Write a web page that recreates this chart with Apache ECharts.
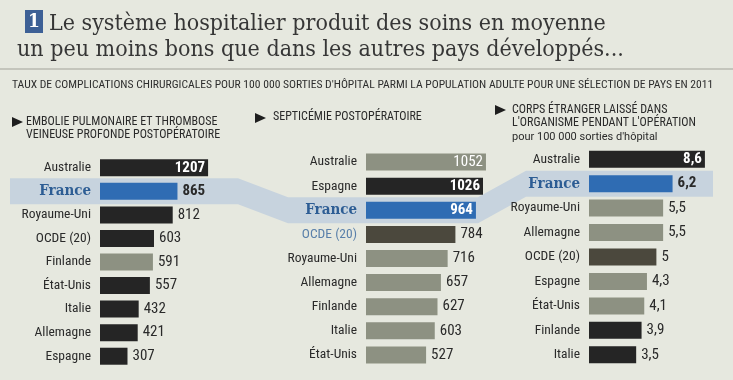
<!DOCTYPE html>
<html><head><meta charset="utf-8">
<script src="https://cdn.jsdelivr.net/npm/echarts@6/dist/echarts.min.js"></script>
<style>html,body{margin:0;padding:0;background:#e6e8df}#c{width:733px;height:380px}</style>
</head><body><div id="c"></div>
<script>
// ---- data ----
const categories1 = ['Australie','France','Royaume-Uni','OCDE (20)','Finlande','État-Unis','Italie','Allemagne','Espagne'];
const values1 = [1207,865,812,603,591,557,432,421,307];
const categories2 = ['Australie','Espagne','France','OCDE (20)','Royaume-Uni','Allemagne','Finlande','Italie','État-Unis'];
const values2 = [1052,1026,964,784,716,657,627,603,527];
const categories3 = ['Australie','France','Royaume-Uni','Allemagne','OCDE (20)','Espagne','État-Unis','Finlande','Italie'];
const values3 = [8.6,6.2,5.5,5.5,5,4.3,4.1,3.9,3.5];

// ---- styles (kept separate from data) ----
const tone1 = ['k','b','k','k','g','k','k','k','k'];
const tone2 = ['g','k','b','o','g','g','g','g','g'];
const tone3 = ['k','b','g','g','o','g','g','k','k'];
const inside1 = [1,0,0,0,0,0,0,0,0];
const inside2 = [1,1,1,0,0,0,0,0,0];
const inside3 = [1,0,0,0,0,0,0,0,0];
const bold1 = [1,1,0,0,0,0,0,0,0];
const bold2 = [0,1,1,0,0,0,0,0,0];
const bold3 = [1,1,0,0,0,0,0,0,0];

const COL = {k:'#252525', b:'#2f6cb3', g:'#8d9182', o:'#4b483d'};
const SANS = '"Roboto Condensed", "DejaVu Sans Condensed", sans-serif';
const SERIF = '"DejaVu Serif Condensed", "DejaVu Serif", serif';
const TXT = '#2a2a2a';

const chart = echarts.init(document.getElementById('c'), null, {renderer:'canvas'});

function fmt(v, dec){ return dec ? String(v).replace('.', ',') : String(v); }

function buildData(values, tone, inside, bold, dec){
  return values.map((v,i)=>({
    value: v,
    itemStyle: {color: COL[tone[i]]},
    label: {
      show: true,
      position: inside[i] ? 'insideRight' : 'right',
      distance: inside[i] ? 3 : 5,
      color: inside[i] ? '#ffffff' : TXT,
      fontWeight: bold[i] ? 'bold' : 'normal',
      fontFamily: SANS,
      fontSize: 15,
      formatter: () => fmt(v, dec)
    }
  }));
}

const grids = [
  {left:100, top:156, width:120, height:212},
  {left:366, top:150, width:130, height:217},
  {left:589, top:147, width:124, height:220}
];
const maxes = [1340, 1140, 9.2];
const cats = [categories1, categories2, categories3];

function yLabelFmt(panel){
  return function(v){
    if (v === 'France') return '{fr|France}';
    if (panel === 1 && v === 'OCDE (20)') return '{oc|' + v + '}';
    return '{n|' + v + '}';
  };
}
const rich = {
  fr:{fontFamily:SERIF, fontWeight:'bold', fontSize:15, color:'#2d5d94'},
  oc:{fontFamily:SANS, fontSize:13.5, color:'#5a80aa'},
  n:{fontFamily:SANS, fontSize:13.5, color:TXT}
};

const option = {
  backgroundColor:'#e6e8df',
  animation:false,
  grid: grids.map(g=>Object.assign({containLabel:false}, g)),
  xAxis: grids.map((g,i)=>({type:'value', gridIndex:i, min:0, max:maxes[i], show:false})),
  yAxis: grids.map((g,i)=>({
    type:'category', gridIndex:i, data:cats[i], inverse:true,
    axisLine:{show:false}, axisTick:{show:false}, splitLine:{show:false},
    axisLabel:{margin:9, formatter:yLabelFmt(i), rich:rich}
  })),
  series: [
    {type:'bar', xAxisIndex:0, yAxisIndex:0, barWidth:17, z:3, data:buildData(values1,tone1,inside1,bold1,false)},
    {type:'bar', xAxisIndex:1, yAxisIndex:1, barWidth:17, z:3, data:buildData(values2,tone2,inside2,bold2,false)},
    {type:'bar', xAxisIndex:2, yAxisIndex:2, barWidth:17, z:3, data:buildData(values3,tone3,inside3,bold3,true)}
  ]
};
chart.setOption(option);

// ---- decorations & texts ----
const yF1 = chart.convertToPixel({gridIndex:0}, [0,'France'])[1];
const yF2 = chart.convertToPixel({gridIndex:1}, [0,'France'])[1];
const yF3 = chart.convertToPixel({gridIndex:2}, [0,'France'])[1];
const h = 13;
const bandPts = [
  [10,yF1-h],[238,yF1-h],[288,yF2-h],[478,yF2-h],[526,yF3-h],[713,yF3-h],
  [713,yF3+h],[526,yF3+h],[478,yF2+h],[288,yF2+h],[238,yF1+h],[10,yF1+h]
];

function txt(x,y,s,font,color,align){
  return {type:'text', x:x, y:y, style:{text:s, font:font, fill:color||TXT, align:align||'left', verticalAlign:'middle'}};
}
function tri(x,y){
  return {type:'polygon', shape:{points:[[x,y-5],[x+11,y],[x,y+5]]}, style:{fill:'#1e1e1e'}};
}
const HF = '12px ' + SANS;

chart.setOption({
  graphic:[
    {type:'polygon', z:-10, shape:{points:bandPts}, style:{fill:'#c7d3de'}},
    {type:'rect', shape:{x:25,y:10,width:18,height:23}, style:{fill:'#3d6096'}},
    txt(34,22,'1','bold 19px '+SERIF,'#ffffff','center'),
    txt(49,24,'Le système hospitalier produit des soins en moyenne','23px '+SERIF,'#363636'),
    txt(17,50,'un peu moins bons que dans les autres pays développés...','23px '+SERIF,'#363636'),
    {type:'line', shape:{x1:0,y1:69,x2:733,y2:69}, style:{stroke:'#b8bab1', lineWidth:1.5}},
    txt(12,85,"TAUX DE COMPLICATIONS CHIRURGICALES POUR 100 000 SORTIES D'HÔPITAL PARMI LA POPULATION ADULTE POUR UNE SÉLECTION DE PAYS EN 2011",'11.6px '+SANS,'#2e2e2e'),
    tri(12,122),
    txt(26,122,'EMBOLIE PULMONAIRE ET THROMBOSE',HF),
    txt(26,135,'VEINEUSE PROFONDE POSTOPÉRATOIRE',HF),
    tri(255,118),
    txt(273,117,'SEPTICÉMIE POSTOPÉRATOIRE',HF),
    tri(495,110),
    txt(512,110,'CORPS ÉTRANGER LAISSÉ DANS',HF),
    txt(512,123,"L'ORGANISME PENDANT L'OPÉRATION",HF),
    txt(512,137,"pour 100 000 sorties d'hôpital",'11px Roboto, sans-serif')
  ]
});
</script></body></html>
